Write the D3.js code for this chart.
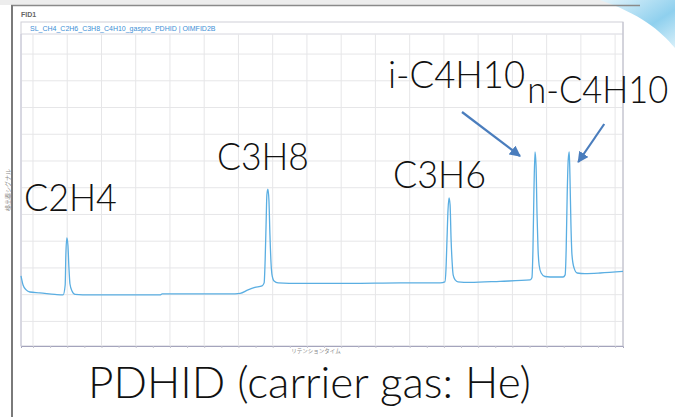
<!DOCTYPE html>
<html lang="ja">
<head>
<meta charset="UTF-8">
<title>PDHID chromatogram</title>
<script src="https://d3js.org/d3.v7.min.js"></script>
<style>
  body { margin: 0; background: #fff; }
  svg { display: block; }
</style>
</head>
<body>
<div id="chart"></div>
<script>
// retention time (min) and detector signal
const times = [0.65, 0.71, 0.80, 0.91, 1.20, 1.64, 1.88, 1.94, 1.96, 1.99, 2.02, 2.05, 2.08, 2.14, 2.23,
  2.67, 3.54, 4.71, 4.77, 5.88, 6.75, 7.05, 7.28, 7.48, 7.69, 7.75, 7.78, 7.81, 7.83, 7.86, 7.89, 7.92,
  7.95, 7.98, 8.04, 8.16, 8.80, 10.26, 11.72, 12.89, 13.03, 13.06, 13.09, 13.12, 13.15, 13.18, 13.21,
  13.24, 13.27, 13.33, 13.41, 13.76, 14.64, 15.52, 15.57, 15.60, 15.63, 15.66, 15.69, 15.72, 15.75,
  15.78, 15.84, 15.95, 16.25, 16.48, 16.54, 16.57, 16.60, 16.63, 16.66, 16.68, 16.71, 16.74, 16.80,
  16.89, 17.12, 17.56, 18.23];
const signal = [1.70, 1.36, 1.18, 1.10, 1.07, 1.01, 0.99, 1.36, 2.49, 3.12, 2.86, 2.00, 1.40, 1.14, 1.01,
  0.99, 0.99, 0.99, 1.03, 1.03, 1.03, 1.05, 1.18, 1.27, 1.33, 1.44, 2.30, 3.79, 4.73, 4.95, 4.54, 3.23,
  2.22, 1.74, 1.51, 1.44, 1.42, 1.42, 1.44, 1.44, 1.48, 1.93, 3.05, 4.17, 4.62, 4.36, 3.05,
  2.22, 1.74, 1.55, 1.48, 1.46, 1.50, 1.55, 1.63, 2.67, 4.92, 6.34, 5.85, 3.98, 2.67,
  2.11, 1.81, 1.68, 1.66, 1.66, 1.74, 2.67, 4.73, 6.04, 6.34, 5.48, 3.61, 2.49, 2.00,
  1.81, 1.79, 1.81, 1.87];

const peakNames = ["C2H4", "C3H8", "C3H6", "i-C4H10", "n-C4H10"];
const peakTimes = [1.99, 7.86, 13.15, 15.66, 16.66];
const timeDomain = [0.65, 18.23];
const signalDomain = [-0.92, 10.75];
const fileTitle = "SL_CH4_C2H6_C3H8_C4H10_gaspro_PDHID | OIMFID2B";
const caption = "PDHID (carrier gas: He)";

const W = 675, H = 417;
const svg = d3.select("#chart").append("svg").attr("width", W).attr("height", H);

const defs = svg.append("defs");
const grad = defs.append("linearGradient").attr("id", "swoosh")
  .attr("x1", "0").attr("y1", "0").attr("x2", "1").attr("y2", "1");
grad.append("stop").attr("offset", "0%").attr("stop-color", "#e4f4fb");
grad.append("stop").attr("offset", "60%").attr("stop-color", "#8fd0ee");
grad.append("stop").attr("offset", "100%").attr("stop-color", "#d8f0fa");

// slide background bits
svg.append("rect").attr("x", 0).attr("y", 0).attr("width", W).attr("height", 5).attr("fill", "#ededed");
svg.append("path").attr("d", "M600,0 L675,0 L675,48 C660,30 640,14 600,0 Z").attr("fill", "url(#swoosh)");
svg.append("line").attr("x1", 11).attr("x2", 640).attr("y1", 5.5).attr("y2", 5.5)
  .attr("stroke", "#8a8a8a").attr("stroke-width", 1.5);
svg.append("line").attr("x1", 12).attr("x2", 12).attr("y1", 5).attr("y2", H)
  .attr("stroke", "#7a7a7a").attr("stroke-width", 2);

svg.append("text").attr("x", 21).attr("y", 17).text("FID1")
  .style("font-family", "Arial, 'Liberation Sans', sans-serif").style("font-size", "7px")
  .style("font-weight", "bold").style("fill", "#666");

// chart box
const box = { left: 21, right: 623, top: 22, head: 34, bottom: 346 };
svg.append("rect").attr("x", box.left).attr("y", box.top)
  .attr("width", box.right - box.left).attr("height", box.bottom - box.top)
  .attr("fill", "#fff").attr("stroke", "#cfcfd8").attr("stroke-width", 1);
svg.append("line").attr("x1", box.left).attr("x2", box.right).attr("y1", box.head).attr("y2", box.head)
  .attr("stroke", "#d6d6de");
svg.append("text").attr("x", 30).attr("y", 31).text(fileTitle)
  .style("font-family", "Arial, 'Liberation Sans', sans-serif").style("font-size", "7px")
  .style("fill", "#3d8fd6");

const x = d3.scaleLinear().domain(timeDomain).range([box.left, box.right]);
const y = d3.scaleLinear().domain(signalDomain).range([box.bottom, box.head]);

// grid
const grid = svg.append("g");
grid.selectAll(".vg").data(d3.range(1, 19)).join("line")
  .attr("x1", d => x(d)).attr("x2", d => x(d)).attr("y1", box.head).attr("y2", box.bottom)
  .attr("stroke", "#e6e6e8");
grid.selectAll(".hg").data(d3.range(0, 11)).join("line")
  .attr("x1", box.left).attr("x2", box.right).attr("y1", d => y(d)).attr("y2", d => y(d))
  .attr("stroke", "#e6e6e8");

// bottom axis with minor ticks
const xAxis = d3.axisBottom(x).tickValues(d3.range(1, 18.01, 0.5)).tickSize(2).tickFormat("");
const ax = svg.append("g").attr("transform", `translate(0,${box.bottom})`).call(xAxis);
ax.select(".domain").attr("stroke", "#a4a4bc");
ax.selectAll(".tick line").attr("stroke", "#c4c4d0");
ax.selectAll(".tick text").remove();
svg.append("line").attr("x1", box.left).attr("x2", box.left).attr("y1", box.head).attr("y2", box.bottom)
  .attr("stroke", "#c8c8d8");
svg.append("line").attr("x1", box.right).attr("x2", box.right).attr("y1", box.top).attr("y2", box.bottom)
  .attr("stroke", "#c0c0cc");

svg.append("text").attr("x", 316).attr("y", 353).attr("text-anchor", "middle")
  .text("リテンションタイム")
  .style("font-family", "'Noto Sans CJK JP', sans-serif").style("font-size", "5.5px").style("fill", "#8a8a8a");
svg.append("text").attr("transform", "translate(10,190) rotate(-90)").attr("text-anchor", "middle")
  .text("検出器シグナル")
  .style("font-family", "'Noto Sans CJK JP', sans-serif").style("font-size", "6px").style("fill", "#8a8a8a");

// chromatogram trace
const pts = times.map((t, i) => [t, signal[i]]);
const line = d3.line().x(d => x(d[0])).y(d => y(d[1])).curve(d3.curveMonotoneX);
svg.append("path").datum(pts).attr("d", line)
  .attr("fill", "none").attr("stroke", "#5aaee2").attr("stroke-width", 1.3);

// peak labels (slightly stretched vertically, like the narrow slide font)
const bigFont = "Lato, 'Open Sans', sans-serif";
const labelOffsets = [[-43, 211, 93], [-51, 170, 92], [-56, 188, 93], [-147, 88, 137], [-42, 103, 141]];
peakNames.forEach((name, i) => {
  const [dx, by, len] = labelOffsets[i];
  svg.append("text")
    .attr("transform", `translate(${x(peakTimes[i]) + dx},${by}) scale(1,1.12)`)
    .text(name)
    .attr("textLength", len).attr("lengthAdjust", "spacingAndGlyphs")
    .style("font-family", bigFont).style("font-weight", 300).style("font-size", "33px").style("fill", "#111");
});

// arrows to the butane peaks
const arrowColor = "#4a7dbd";
defs.append("marker").attr("id", "head").attr("viewBox", "0 0 10 10").attr("refX", 9).attr("refY", 5)
  .attr("markerWidth", 5).attr("markerHeight", 5).attr("orient", "auto")
  .append("path").attr("d", "M0,0 L10,5 L0,10 Z").attr("fill", arrowColor);
const arrows = [[x(peakTimes[3]) - 73, 112, x(peakTimes[3]) - 15, 156], [x(peakTimes[4]) + 35, 124, x(peakTimes[4]) + 9, 162]];
arrows.forEach(a => {
  svg.append("line").attr("x1", a[0]).attr("y1", a[1]).attr("x2", a[2]).attr("y2", a[3])
    .attr("stroke", arrowColor).attr("stroke-width", 2.2).attr("marker-end", "url(#head)");
});

svg.append("text").attr("x", 88).attr("y", 398).text(caption)
  .attr("textLength", 443).attr("lengthAdjust", "spacingAndGlyphs")
  .style("font-family", bigFont).style("font-weight", 300).style("font-size", "43px").style("fill", "#111");
</script>
</body>
</html>
